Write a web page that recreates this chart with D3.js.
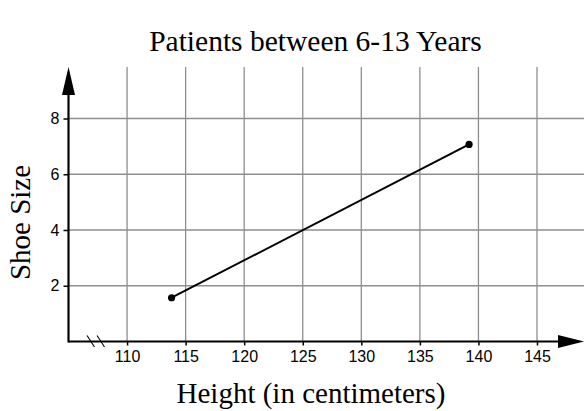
<!DOCTYPE html>
<html><head><meta charset="utf-8">
<script src="https://cdn.jsdelivr.net/npm/d3@7"></script>
<style>html,body{margin:0;padding:0;background:#fff;}svg{display:block;}</style>
</head><body>
<svg id="chart" width="584" height="411"></svg>
<script>
const title = "Patients between 6-13 Years";
const xLabel = "Height (in centimeters)";
const yLabel = "Shoe Size";
const xTicks = [110, 115, 120, 125, 130, 135, 140, 145];
const yTicks = [2, 4, 6, 8];
const heights = [113.8, 139.2];
const shoeSizes = [1.57, 7.07];

const svg = d3.select("#chart");
const W = 584, H = 411;
const x = d3.scaleLinear().domain([105, 145]).range([68.5, 537]);
const y = d3.scaleLinear().domain([0, 8]).range([341.5, 118.5]);
const yTop = 67, xRight = W;

const grid = svg.append("g").attr("stroke", "#8f8f8f").attr("stroke-width", 1.3);
grid.selectAll(".v").data(xTicks).join("line")
  .attr("x1", d => x(d)).attr("x2", d => x(d)).attr("y1", yTop).attr("y2", y(0));
grid.selectAll(".h").data(yTicks).join("line")
  .attr("x1", x(105)).attr("x2", xRight).attr("y1", d => y(d)).attr("y2", d => y(d));

const sans = "'Liberation Sans', Arial, sans-serif";
const xAxis = d3.axisBottom(x).tickValues(xTicks).tickSize(4).tickPadding(5).tickFormat(d3.format("d"));
const gx = svg.append("g").attr("transform", `translate(0,${y(0)})`).call(xAxis)
  .attr("font-family", sans).attr("font-size", 16);
gx.select(".domain").remove();
gx.selectAll(".tick line").attr("stroke", "#000").attr("stroke-width", 1.5);
gx.selectAll(".tick text").attr("fill", "#000");

const yAxis = d3.axisLeft(y).tickValues(yTicks).tickSize(5).tickPadding(4);
const gy = svg.append("g").attr("transform", `translate(${x(105)},0)`).call(yAxis)
  .attr("font-family", sans).attr("font-size", 16);
gy.select(".domain").remove();
gy.selectAll(".tick line").attr("stroke", "#000").attr("stroke-width", 1.5);
gy.selectAll(".tick text").attr("fill", "#000");

svg.append("line").attr("x1", x(105)).attr("x2", 560).attr("y1", y(0)).attr("y2", y(0))
  .attr("stroke", "#000").attr("stroke-width", 2.2);
svg.append("line").attr("x1", x(105)).attr("x2", x(105)).attr("y1", y(0) + 1).attr("y2", 92)
  .attr("stroke", "#000").attr("stroke-width", 2.2);
svg.append("path").attr("d", `M${W},${y(0)} L558,${y(0) - 6.5} L558,${y(0) + 6.5} Z`).attr("fill", "#000");
const ax = x(105);
svg.append("path").attr("d", `M${ax},67 L${ax - 6.5},95 L${ax + 6.5},95 Z`).attr("fill", "#000");

[0, 10].forEach(o => {
  svg.append("line").attr("x1", 87 + o).attr("y1", 335.5).attr("x2", 94.5 + o).attr("y2", 347)
    .attr("stroke", "#000").attr("stroke-width", 1.1);
});

const pts = heights.map((h, i) => [h, shoeSizes[i]]);
svg.append("path").datum(pts)
  .attr("d", d3.line().x(d => x(d[0])).y(d => y(d[1])))
  .attr("fill", "none").attr("stroke", "#000").attr("stroke-width", 2);
svg.selectAll(".pt").data(pts).join("circle")
  .attr("cx", d => x(d[0])).attr("cy", d => y(d[1])).attr("r", 3.6).attr("fill", "#000");

const serif = "'Liberation Serif', 'Times New Roman', serif";
svg.append("text").attr("x", 315.5).attr("y", 51).attr("text-anchor", "middle")
  .attr("font-family", serif).attr("font-size", 29.5).attr("fill", "#000").text(title);
svg.append("text").attr("x", 311).attr("y", 403).attr("text-anchor", "middle")
  .attr("font-family", serif).attr("font-size", 29).attr("fill", "#000").text(xLabel);
svg.append("text").attr("transform", "translate(30,222.5) rotate(-90)").attr("text-anchor", "middle")
  .attr("font-family", serif).attr("font-size", 29).attr("fill", "#000").text(yLabel);
</script>
</body></html>
